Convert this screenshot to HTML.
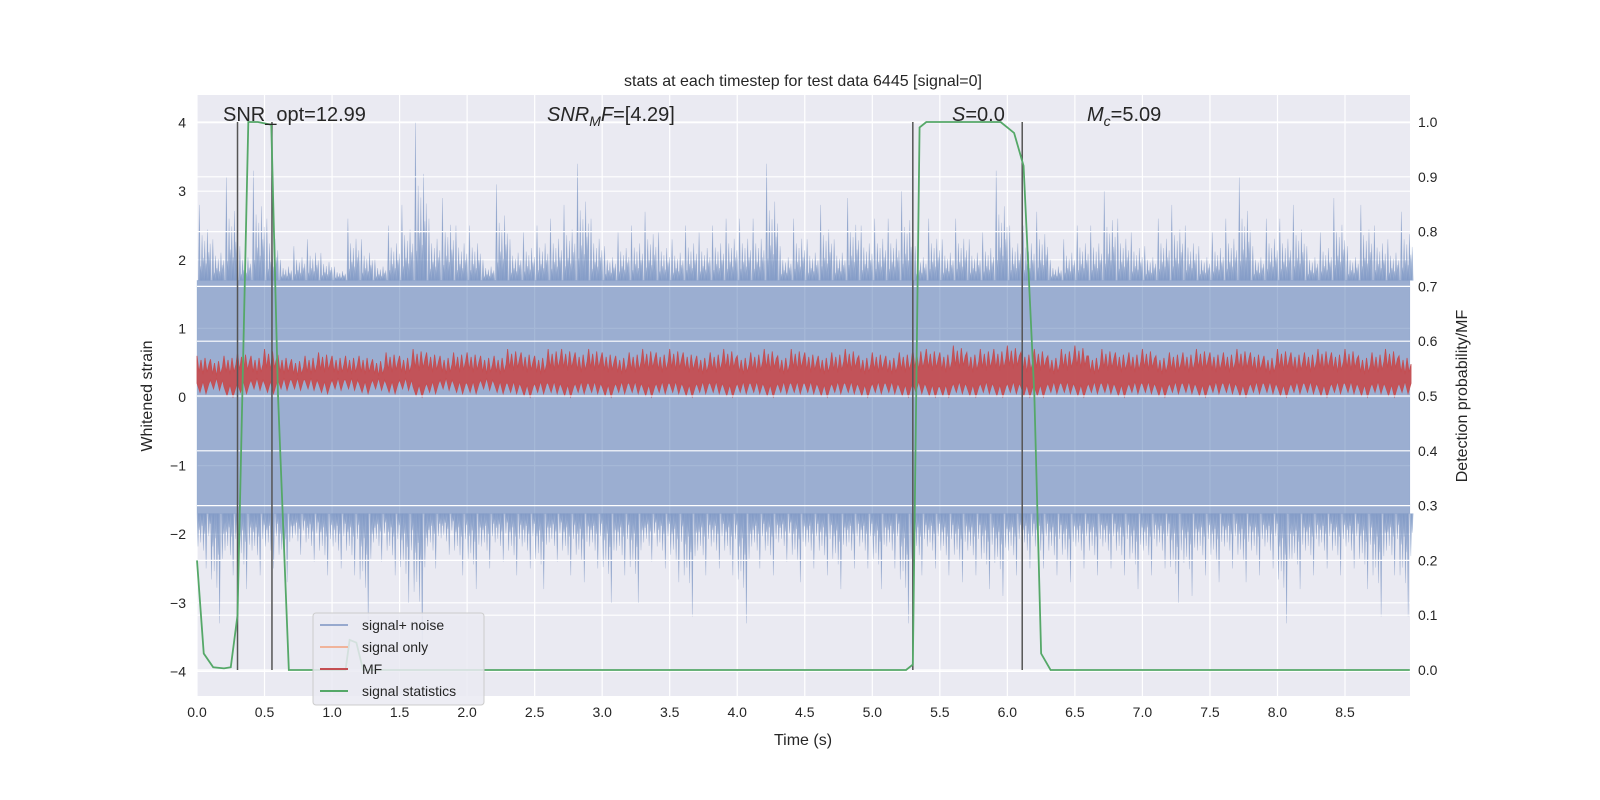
<!DOCTYPE html>
<html><head><meta charset="utf-8"><style>
body{margin:0;background:#fff;}
svg{display:block;font-family:"Liberation Sans","DejaVu Sans",sans-serif;}
</style></head><body>
<svg id="chart" width="1600" height="800" xmlns="http://www.w3.org/2000/svg">
<rect x="197" y="95" width="1213" height="601" fill="#eaeaf2"/>
<g id="grid"></g><g id="marks"></g><g id="grid2"></g><g id="marks2"></g><g id="axes"></g>
<text x="803" y="86" text-anchor="middle" font-size="16" fill="#262626">stats at each timestep for test data 6445 [signal=0]</text>
<text x="803" y="745" text-anchor="middle" font-size="16" fill="#262626">Time (s)</text>
<text transform="translate(152,396) rotate(-90)" text-anchor="middle" font-size="16" fill="#262626">Whitened strain</text>
<text transform="translate(1467,396) rotate(-90)" text-anchor="middle" font-size="16" fill="#262626">Detection probability/MF</text>
<text x="223" y="121" font-size="20" fill="#262626">SNR_opt=12.99</text>
<text x="547" y="121" font-size="20" fill="#262626"><tspan font-style="italic">SNR</tspan><tspan font-style="italic" font-size="14" dy="5">M</tspan><tspan font-style="italic" dy="-5">F</tspan>=[4.29]</text>
<text x="952" y="121" font-size="20" fill="#262626"><tspan font-style="italic">S</tspan>=0.0</text>
<text x="1087" y="121" font-size="20" fill="#262626"><tspan font-style="italic">M</tspan><tspan font-style="italic" font-size="14" dy="5">c</tspan><tspan dy="-5">=5.09</tspan></text>
<g>
<rect x="313" y="613" width="171" height="92" rx="3" fill="#eaeaf2" fill-opacity="0.85" stroke="#cccccc"/>
<line x1="320" y1="625" x2="348" y2="625" stroke="#97a9ce" stroke-width="2"/><text x="362" y="630" font-size="14" fill="#262626">signal+ noise</text>
<line x1="320" y1="647" x2="348" y2="647" stroke="#f0b39a" stroke-width="2"/><text x="362" y="652" font-size="14" fill="#262626">signal only</text>
<line x1="320" y1="669" x2="348" y2="669" stroke="#c44e52" stroke-width="2"/><text x="362" y="674" font-size="14" fill="#262626">MF</text>
<line x1="320" y1="691" x2="348" y2="691" stroke="#55a868" stroke-width="2"/><text x="362" y="696" font-size="14" fill="#262626">signal statistics</text>
</g>
</svg>
<script>
const noiseTop=[2.8,2.3,3.2,2.2,3.3,2.6,2.0,2.2,2.3,2.1,1.9,2.6,2.3,2.0,2.5,2.8,4.0,2.6,2.9,2.5,2.5,2.0,3.1,2.3,2.4,2.5,2.6,2.8,3.4,2.6,2.2,2.4,2.5,2.7,2.4,2.3,2.5,2.4,2.5,2.6,2.6,2.6,3.4,2.2,2.6,2.3,2.8,2.3,2.9,2.5,2.6,2.6,3.0,2.2,2.6,2.3,2.6,2.3,2.4,3.3,2.5,2.5,2.7,2.0,2.3,2.5,2.5,3.0,2.6,2.4,2.2,2.6,2.8,2.5,2.2,2.4,2.6,3.2,2.2,2.6,2.6,2.8,2.2,2.4,2.9,2.2,2.8,2.5,2.3,2.7];
const noiseBot=[-2.5,-3.3,-2.6,-2.8,-2.6,-2.5,-2.7,-2.3,-2.4,-2.6,-2.5,-2.6,-3.3,-2.4,-2.6,-3.0,-3.6,-2.5,-2.3,-2.6,-2.8,-2.5,-2.4,-2.6,-2.5,-2.8,-2.4,-2.6,-2.7,-2.5,-3.0,-2.6,-3.0,-2.4,-2.5,-2.7,-3.2,-2.6,-2.5,-2.6,-3.3,-2.5,-2.6,-2.4,-2.7,-2.5,-2.6,-2.8,-2.5,-2.5,-2.8,-2.5,-3.3,-2.6,-2.5,-2.6,-2.7,-2.6,-2.8,-2.9,-2.6,-2.5,-2.5,-2.6,-2.7,-2.5,-2.6,-2.5,-2.6,-2.8,-2.6,-2.5,-3.0,-2.9,-2.6,-2.7,-2.5,-2.7,-2.6,-2.5,-3.3,-2.8,-2.6,-2.5,-2.6,-2.5,-2.8,-3.2,-2.6,-3.2];
const mfTop=[0.6,0.55,0.6,0.65,0.6,0.7,0.6,0.55,0.6,0.65,0.6,0.6,0.6,0.55,0.65,0.6,0.7,0.65,0.6,0.65,0.65,0.6,0.6,0.7,0.65,0.6,0.7,0.7,0.65,0.7,0.65,0.6,0.65,0.7,0.65,0.7,0.65,0.6,0.65,0.7,0.6,0.65,0.7,0.6,0.7,0.65,0.6,0.65,0.7,0.6,0.65,0.6,0.65,0.7,0.7,0.65,0.75,0.65,0.7,0.7,0.75,0.65,0.7,0.6,0.7,0.75,0.6,0.7,0.65,0.65,0.7,0.6,0.65,0.65,0.7,0.65,0.65,0.7,0.65,0.6,0.7,0.65,0.65,0.7,0.65,0.7,0.6,0.65,0.7,0.6];
const mfBot=[0.05,0.1,0.0,0.05,0.1,0.05,0.1,0.1,0.1,0.05,0.1,0.1,0.05,0.1,0.05,0.1,0.0,0.05,0.1,0.05,0.05,0.1,0.05,0.05,0.0,0.05,0.05,0.0,0.05,0.05,0.0,0.05,0.05,0.0,0.05,0.05,0.0,0.05,0.05,0.0,0.05,0.05,0.0,0.05,0.05,0.05,0.0,0.05,0.05,0.0,0.05,0.05,0.0,0.05,0.0,0.0,0.05,0.0,0.05,0.0,0.05,0.0,0.0,0.05,0.05,0.0,0.05,0.05,0.0,0.05,0.05,0.0,0.05,0.05,0.0,0.05,0.05,0.0,0.05,0.05,0.0,0.05,0.05,0.0,0.05,0.05,0.0,0.05,0.0,0.05];
const statT=[0,0.05,0.12,0.2,0.25,0.3,0.38,0.45,0.55,0.6,0.68,1.1,1.13,1.18,1.23,5.25,5.3,5.35,5.4,5.95,6.0,6.05,6.12,6.2,6.25,6.32,8.98];
const statP=[0.2,0.03,0.005,0.003,0.005,0.1,1.0,1.0,0.995,0.5,0.0,0.0,0.055,0.05,0.0,0.0,0.01,0.99,1.0,1.0,0.99,0.98,0.92,0.5,0.03,0.0,0.0];
const eventT=[0.30,0.555,5.3,6.11];
const xTicks=[0,0.5,1,1.5,2,2.5,3,3.5,4,4.5,5,5.5,6,6.5,7,7.5,8,8.5];
const yTicks=[-4,-3,-2,-1,0,1,2,3,4];
const y2Ticks=[0,0.1,0.2,0.3,0.4,0.5,0.6,0.7,0.8,0.9,1.0];
const X=t=>197+t*135.06, Y=v=>397-v*68.6, Y2=p=>670-p*548;
const NS="http://www.w3.org/2000/svg";
function mk(tag,attrs,parent){const e=document.createElementNS(NS,tag);for(const k in attrs)e.setAttribute(k,attrs[k]);parent.appendChild(e);return e;}
const grid=document.getElementById('grid'),grid2=document.getElementById('grid2'),marks=document.getElementById('marks'),marks2=document.getElementById('marks2'),axes=document.getElementById('axes');
xTicks.forEach(t=>{mk('line',{x1:X(t),x2:X(t),y1:95,y2:696,stroke:'#fff','stroke-width':1.2},grid);
 const tx=mk('text',{x:X(t),y:717,'text-anchor':'middle','font-size':14,fill:'#262626'},axes);tx.textContent=t.toFixed(1);
 
 });
yTicks.forEach(v=>{mk('line',{x1:197,x2:1410,y1:Y(v),y2:Y(v),stroke:'#fff','stroke-width':1.2},grid);
 const tx=mk('text',{x:186,y:Y(v)+5,'text-anchor':'end','font-size':14,fill:'#262626'},axes);tx.textContent=v<0?'\u2212'+(-v):v;
 
 });
y2Ticks.forEach(p=>{mk('line',{x1:197,x2:1410,y1:Y2(p),y2:Y2(p),stroke:'#fff','stroke-width':1.2},grid2);
 const tx=mk('text',{x:1418,y:Y2(p)+5,'font-size':14,fill:'#262626'},axes);tx.textContent=p.toFixed(1);
 
 });
// noise band: dense core with thin spikes
const sub=[0.0,0.55,0.25,0.8,0.4,0.7,0.3,0.9,0.5,0.65];
let d='M'+X(0)+','+Y(1.7);
noiseTop.forEach((v,i)=>{const x0=X(i*0.1),w=X(0.1)-X(0);
 sub.forEach((f,k)=>{const xs=x0+k*w/sub.length;const h=k===1?v:1.7+(v-1.7)*f*0.75;d+=`L${xs},${Y(1.7)}L${xs+1},${Y(h)}L${xs+2},${Y(1.7)}`;});});
d+=`L${X(8.98)},${Y(1.7)}L${X(8.98)},${Y(-1.7)}`;
for(let i=noiseBot.length-1;i>=0;i--){const v=noiseBot[i],x0=X(i*0.1),w=X(0.1)-X(0);
 for(let k=sub.length-1;k>=0;k--){const f=sub[(k+3)%sub.length];const xs=x0+k*w/sub.length;const h=k===6?v:-1.7+(v+1.7)*f*0.75;d+=`L${xs+2},${Y(-1.7)}L${xs+1},${Y(h)}L${xs},${Y(-1.7)}`;}}
const nb=mk('path',{d:d+'Z',fill:'#4c72b0','fill-opacity':0.5,stroke:'#4c72b0','stroke-opacity':0.3,'stroke-width':0.6},marks);


// MF band
let m='M'+X(0)+','+Y(mfTop[0]);
mfTop.forEach((v,i)=>{const x0=X(i*0.1);m+=`L${x0},${Y(v)}L${x0+2},${Y(v*0.6)}L${x0+4},${Y(v*0.9)}L${x0+6},${Y(v*0.55)}L${x0+8},${Y(v*0.95)}L${x0+10},${Y(v*0.6)}L${x0+12},${Y(v*0.8)}`;});
for(let i=mfBot.length-1;i>=0;i--){const x0=X(i*0.1),b=mfBot[i];m+=`L${x0+12},${Y(b+0.15)}L${x0+9},${Y(b)}L${x0+6},${Y(b+0.18)}L${x0+3},${Y(b+0.02)}L${x0},${Y(b+0.15)}`;}
const mb=mk('path',{d:m+'Z',fill:'#c44e52','fill-opacity':0.95,stroke:'#c44e52','stroke-width':0.8},marks);


eventT.forEach(t=>{const l=mk('line',{x1:X(t),x2:X(t),y1:Y2(1),y2:Y2(0),stroke:'#555','stroke-width':1.5},marks2);
 
 });
const st=mk('polyline',{points:statT.map((t,i)=>X(t)+','+Y2(statP[i])).join(' '),fill:'none',stroke:'#55a868','stroke-width':1.8},marks2);


</script>
</body></html>
